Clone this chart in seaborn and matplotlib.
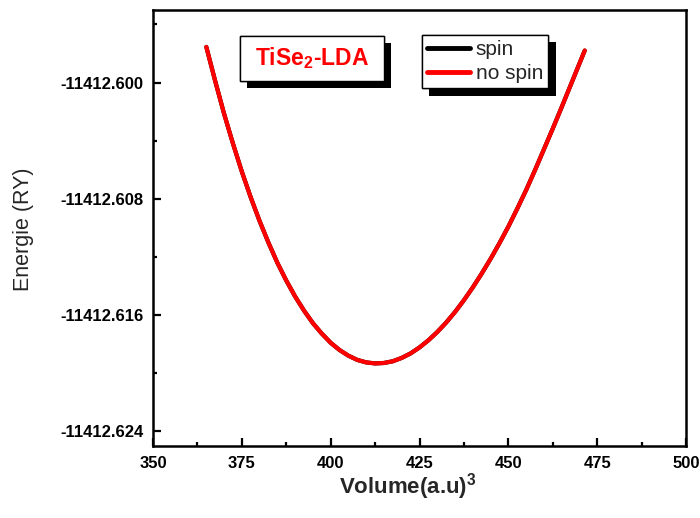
import matplotlib.pyplot as plt
import matplotlib.patheffects as pe
import pandas as pd
import seaborn as sns
from matplotlib.patches import Rectangle
from matplotlib.ticker import FormatStrFormatter

# ----------------------------------------------------------
# Data (volume in a.u.^3, energy in Ry)
# ----------------------------------------------------------

volume = [
    365.0, 367.5, 370.0, 372.5, 375.0, 377.5, 380.0, 382.5, 385.0, 387.5,
    390.0, 392.5, 395.0, 397.5, 400.0, 402.5, 405.0, 407.5, 410.0, 412.5,
    415.0, 417.5, 420.0, 422.5, 425.0, 427.5, 430.0, 432.5, 435.0, 437.5,
    440.0, 442.5, 445.0, 447.5, 450.0, 452.5, 455.0, 457.5, 460.0, 462.5,
    465.0, 467.5, 470.0, 471.5,
]

energy_spin = [
    -11412.59755, -11412.59990, -11412.60215, -11412.60420, -11412.60613,
    -11412.60790, -11412.60953, -11412.61102, -11412.61240, -11412.61362,
    -11412.61472, -11412.61569, -11412.61655, -11412.61727, -11412.61790,
    -11412.61840, -11412.61879, -11412.61908, -11412.61925, -11412.61932,
    -11412.61929, -11412.61917, -11412.61894, -11412.61863, -11412.61822,
    -11412.61773, -11412.61716, -11412.61651, -11412.61578, -11412.61497,
    -11412.61409, -11412.61314, -11412.61213, -11412.61105, -11412.60991,
    -11412.60868, -11412.60740, -11412.60603, -11412.60460, -11412.60317,
    -11412.60170, -11412.60020, -11412.59870, -11412.59780,
]

energy_no_spin = list(energy_spin)

series = ["spin", "no spin"]
series_colors = ["black", "red"]

x_ticks = [350, 375, 400, 425, 450, 475, 500]
y_ticks = [-11412.624, -11412.616, -11412.608, -11412.600]

# ----------------------------------------------------------
# Style
# ----------------------------------------------------------

sns.set_theme(style="white")
plt.rcParams["font.family"] = ["Liberation Sans", "DejaVu Sans"]
plt.rcParams["mathtext.fontset"] = "custom"
plt.rcParams["mathtext.rm"] = "Liberation Sans"
plt.rcParams["mathtext.bf"] = "Liberation Sans:bold"

df = pd.DataFrame(
    {
        "volume": volume + volume,
        "energy": energy_spin + energy_no_spin,
        "series": [series[0]] * len(volume) + [series[1]] * len(volume),
    }
)

fig = plt.figure(figsize=(7, 5.18), dpi=100)
ax = fig.add_axes([0.2186, 0.139, 0.7614, 0.842])

sns.lineplot(
    data=df,
    x="volume",
    y="energy",
    hue="series",
    hue_order=series,
    palette=series_colors,
    linewidth=3,
    estimator=None,
    sort=False,
    ax=ax,
)
for line in ax.get_lines():
    line.set_solid_joinstyle("round")

ax.set_xlim(350, 500)
ax.set_ylim(-11412.625, -11412.595)

ax.set_xticks(x_ticks)
ax.set_xticks([t + 12.5 for t in x_ticks[:-1]], minor=True)
ax.set_yticks(y_ticks)
ax.set_yticks([t + 0.004 for t in y_ticks], minor=True)
ax.yaxis.set_major_formatter(FormatStrFormatter("%.3f"))

ax.tick_params(
    which="both", direction="in", bottom=True, left=True,
    top=False, right=False, width=1.6, colors="black",
)
ax.tick_params(which="major", length=6, pad=7, labelsize=12)
ax.tick_params(which="minor", length=3)
for lab in ax.get_xticklabels() + ax.get_yticklabels():
    lab.set_fontweight("bold")

for spine in ax.spines.values():
    spine.set_linewidth(1.8)
    spine.set_color("black")

ax.set_xlabel("")
ax.set_ylabel("")
fig.text(408 / 700, 1 - 494 / 518, r"Volume(a.u)$^\mathbf{3}$",
         ha="center", va="baseline", fontsize=16, fontweight="bold")
fig.text(23 / 700, 1 - 229 / 518, "Energie (RY)", rotation=90,
         ha="center", va="center", fontsize=15.5)

# legend with a solid black drop shadow
handles, labels = ax.get_legend_handles_labels()
leg = ax.legend(
    handles, labels,
    loc="upper left", bbox_to_anchor=(0.504, 0.943), borderaxespad=0,
    fontsize=15, frameon=True, fancybox=False, framealpha=1,
    edgecolor="black", handlelength=2.05, handletextpad=0.3,
    labelspacing=0.25, borderpad=0.25,
)
leg.get_frame().set_linewidth(1)
leg.get_frame().set_path_effects(
    [pe.withSimplePatchShadow(offset=(5.3, -5.3), shadow_rgbFace="black", alpha=1), pe.Normal()]
)
for line in leg.get_lines():
    line.set_linewidth(3.5)

# title box
box = Rectangle(
    (0.1632, 0.837), 0.2702, 0.103, transform=ax.transAxes,
    facecolor="white", edgecolor="black", linewidth=1, zorder=5,
)
box.set_path_effects(
    [pe.withSimplePatchShadow(offset=(4.7, -5.2), shadow_rgbFace="black", alpha=1), pe.Normal()]
)
ax.add_patch(box)
ax.text(0.2983, 0.8885, r"TiSe$_\mathbf{2}$-LDA", transform=ax.transAxes,
        ha="center", va="center", fontsize=16.5, fontweight="bold",
        color="red", zorder=6)

fig.savefig("out.png", dpi=100)
